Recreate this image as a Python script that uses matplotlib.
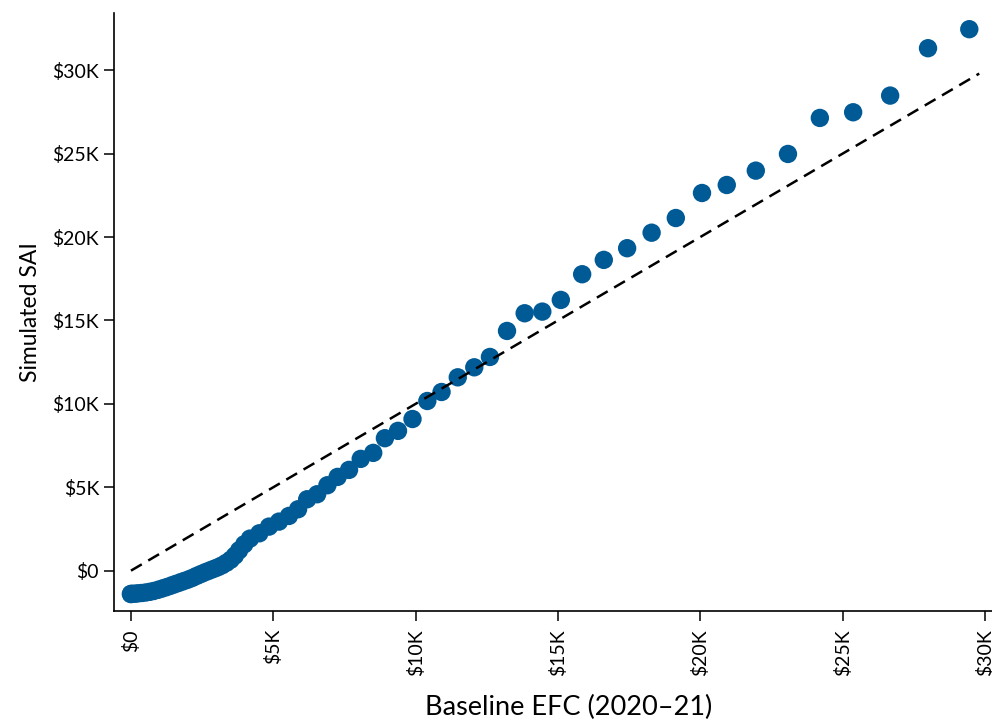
import numpy as np
import matplotlib
matplotlib.use("Agg")
import matplotlib.pyplot as plt
from matplotlib.ticker import FuncFormatter

# Binned means, in thousands of dollars
efc_k = [0.0, 0.0, 0.05, 0.15, 0.25, 0.38, 0.52, 0.66, 0.80, 0.95,
         1.10, 1.25, 1.40, 1.55, 1.70, 1.85, 2.00, 2.15, 2.30, 2.45,
         2.60, 2.75, 2.90, 3.05, 3.20, 3.35, 3.50, 3.65, 3.80, 3.98,
         4.18, 4.51, 4.85, 5.20, 5.55, 5.87, 6.19, 6.54, 6.90, 7.26,
         7.66, 8.07, 8.51, 8.92, 9.38, 9.89, 10.41, 10.91, 11.48, 12.06,
         12.61, 13.21, 13.83, 14.45, 15.10, 15.85, 16.61, 17.43, 18.29, 19.14,
         20.06, 20.93, 21.95, 23.08, 24.20, 25.37, 26.67, 28.00, 29.45]
sai_k = [-1.40, -1.40, -1.39, -1.38, -1.36, -1.34, -1.31, -1.27, -1.22, -1.15,
         -1.07, -0.99, -0.90, -0.81, -0.72, -0.63, -0.54, -0.44, -0.32, -0.21,
         -0.10, 0.0, 0.10, 0.20, 0.32, 0.47, 0.65, 0.90, 1.22, 1.58,
         1.92, 2.24, 2.64, 2.94, 3.28, 3.68, 4.28, 4.58, 5.12, 5.62,
         6.04, 6.70, 7.06, 7.94, 8.38, 9.09, 10.17, 10.71, 11.59, 12.19,
         12.81, 14.37, 15.43, 15.53, 16.23, 17.77, 18.63, 19.33, 20.26, 21.14,
         22.64, 23.12, 23.98, 24.98, 27.14, 27.48, 28.48, 31.32, 32.46]
ref_line = [0, 29.8]

x_ticks = [0, 5, 10, 15, 20, 25, 30]
y_ticks = [0, 5, 10, 15, 20, 25, 30]

plt.rcParams['font.family'] = ['Lato', 'DejaVu Sans']

fig = plt.figure(figsize=(9.92, 7.23), dpi=100)
ax = fig.add_axes([0.1152, 0.1549, 0.917, 0.8271])

ax.plot(ref_line, ref_line, color='black', lw=1.8, linestyle=(0, (5, 3)), zorder=3)
ax.scatter(efc_k, sai_k, s=175, color='#005A96', edgecolors='none', zorder=2)

ax.set_xlim(-0.587, 31.37)
ax.set_ylim(-2.42, 33.43)

fmt = FuncFormatter(lambda v, p: '$0' if v == 0 else f'${v:.0f}K')
ax.set_xticks(x_ticks)
ax.set_yticks(y_ticks)
ax.xaxis.set_major_formatter(fmt)
ax.yaxis.set_major_formatter(fmt)
ax.tick_params(axis='both', length=7, width=1.1, labelsize=14, pad=4)
ax.tick_params(axis='x', labelrotation=90, pad=6)

for side in ['top', 'right']:
    ax.spines[side].set_visible(False)
for side in ['left', 'bottom']:
    ax.spines[side].set_linewidth(1.2)

ax.set_xlabel('Baseline EFC (2020–21)', fontsize=19.5, labelpad=14)
ax.set_ylabel('Simulated SAI', fontsize=16.5, labelpad=8)

fig.savefig('out.png', dpi=100)
